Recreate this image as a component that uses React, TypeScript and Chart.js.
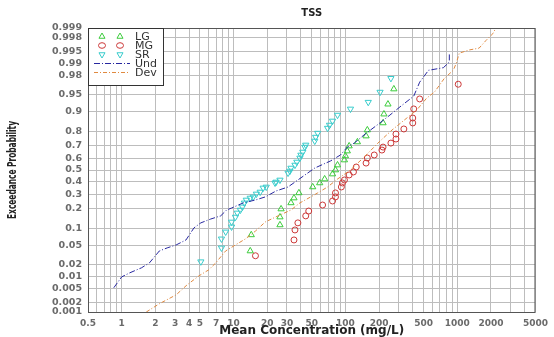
import React, { useEffect, useRef } from "react";
import { Chart, registerables } from "chart.js";

Chart.register(...registerables);

// ---- Data (concentration mg/L, exceedance probability) ----
const lgConc = [14.1, 14.4, 26.0, 26.0, 26.6, 32.6, 34.7, 38.4, 51.0, 58.9, 65.2, 76.7, 81.5, 85, 98, 100, 104, 108, 128, 153, 157, 217, 221, 240, 271];
const lgProb = [0.039, 0.079, 0.116, 0.153, 0.198, 0.237, 0.271, 0.309, 0.356, 0.389, 0.422, 0.465, 0.5, 0.543, 0.586, 0.62, 0.66, 0.699, 0.729, 0.77, 0.808, 0.847, 0.888, 0.924, 0.961];

const mgConc = [15.7, 34.7, 35.4, 37.6, 44.2, 47.0, 62.5, 76.7, 81.5, 81.5, 92, 94, 98, 108, 118, 125, 153, 157, 181, 212, 217, 255, 283, 283, 333, 400, 400, 408, 461, 1020];
const mgProb = [0.031, 0.064, 0.096, 0.125, 0.159, 0.186, 0.223, 0.25, 0.279, 0.309, 0.356, 0.389, 0.414, 0.457, 0.483, 0.526, 0.56, 0.603, 0.628, 0.668, 0.691, 0.721, 0.75, 0.783, 0.814, 0.847, 0.871, 0.908, 0.939, 0.969];

const srConc = [5.1, 7.8, 7.8, 8.5, 9.6, 9.6, 10.4, 10.8, 11.5, 12.0, 12.5, 13.0, 14.1, 15.0, 16.0, 17.3, 18.4, 19.6, 23.5, 24.0, 26.0, 30.7, 31.9, 32.6, 35.4, 36.8, 39.2, 40.0, 41.6, 43.4, 44.2, 53.2, 54.2, 56.5, 69.3, 72.1, 76.7, 85, 111, 160, 204, 255];
const srProb = [0.023, 0.045, 0.067, 0.089, 0.108, 0.129, 0.153, 0.175, 0.192, 0.211, 0.237, 0.257, 0.271, 0.279, 0.301, 0.316, 0.348, 0.356, 0.389, 0.397, 0.414, 0.474, 0.491, 0.517, 0.543, 0.569, 0.603, 0.628, 0.652, 0.691, 0.707, 0.736, 0.763, 0.789, 0.819, 0.836, 0.857, 0.884, 0.908, 0.93, 0.955, 0.977];

const undConc = [0.85, 1.0, 1.18, 1.5, 1.77, 2.17, 2.55, 3.07, 3.76, 4.43, 5.1, 6.25, 7.67, 8.67, 9.6, 12.2, 15.7, 19.2, 24.0, 30.7, 37.6, 53.2, 73.6, 90.3, 104, 120, 150, 192, 250, 307, 408, 461, 553, 751, 849, 849];
const undProb = [0.0052, 0.01, 0.0126, 0.0166, 0.0216, 0.039, 0.045, 0.0515, 0.064, 0.104, 0.125, 0.143, 0.159, 0.192, 0.204, 0.237, 0.257, 0.279, 0.324, 0.356, 0.414, 0.517, 0.578, 0.628, 0.691, 0.721, 0.783, 0.836, 0.884, 0.915, 0.946, 0.972, 0.985, 0.987, 0.9906, 0.9945];

const devConc = [1.66, 2.17, 3.07, 3.84, 4.9, 6.0, 6.93, 8.49, 10.4, 12.8, 15.7, 19.2, 25, 32.6, 39.2, 49.0, 56.5, 69.3, 85, 111, 147, 200, 261, 354, 434, 532, 625, 767, 921, 980, 1042, 1276, 1567, 1807, 2080, 2213];
const devProb = [0.001, 0.0018, 0.0033, 0.0062, 0.0106, 0.0149, 0.0216, 0.039, 0.0515, 0.067, 0.092, 0.129, 0.159, 0.192, 0.237, 0.279, 0.309, 0.356, 0.422, 0.5, 0.611, 0.729, 0.808, 0.871, 0.904, 0.941, 0.955, 0.977, 0.985, 0.99, 0.9945, 0.9955, 0.996, 0.9976, 0.9985, 0.999];

const xTickLabels = ["0.5", "1", "2", "3", "4", "5", "7", "10", "20", "30", "50", "100", "200", "500", "1000", "2000", "5000"];
const yTickProbs = [0.001, 0.002, 0.005, 0.01, 0.02, 0.05, 0.1, 0.2, 0.3, 0.4, 0.5, 0.6, 0.7, 0.8, 0.9, 0.95, 0.98, 0.99, 0.995, 0.998, 0.999];

const TITLE = "TSS";
const X_TITLE = "Mean Concentration (mg/L)";
const Y_TITLE = "Exceedance Probability";

const COLORS = {
  LG: "#3ccc3c",
  MG: "#cc3838",
  SR: "#38cccc",
  Und: "#2828a0",
  Dev: "#e08a40",
};

// inverse standard normal CDF (Acklam)
function probit(p: number): number {
  const a = [-3.969683028665376e1, 2.209460984245205e2, -2.759285104469687e2, 1.38357751867269e2, -3.066479806614716e1, 2.506628277459239];
  const b = [-5.447609879822406e1, 1.615858368580409e2, -1.556989798598866e2, 6.680131188771972e1, -1.328068155288572e1];
  const c = [-7.784894002430293e-3, -3.223964580411365e-1, -2.400758277161838, -2.549732539343734, 4.374664141464968, 2.938163982698783];
  const d = [7.784695709041462e-3, 3.224671290700398e-1, 2.445134137142996, 3.754408661907416];
  const pl = 0.02425;
  if (p < pl) {
    const q = Math.sqrt(-2 * Math.log(p));
    return (((((c[0] * q + c[1]) * q + c[2]) * q + c[3]) * q + c[4]) * q + c[5]) / ((((d[0] * q + d[1]) * q + d[2]) * q + d[3]) * q + 1);
  }
  if (p <= 1 - pl) {
    const q = p - 0.5;
    const r = q * q;
    return ((((((a[0] * r + a[1]) * r + a[2]) * r + a[3]) * r + a[4]) * r + a[5]) * q) / (((((b[0] * r + b[1]) * r + b[2]) * r + b[3]) * r + b[4]) * r + 1);
  }
  const q = Math.sqrt(-2 * Math.log(1 - p));
  return -(((((c[0] * q + c[1]) * q + c[2]) * q + c[3]) * q + c[4]) * q + c[5]) / ((((d[0] * q + d[1]) * q + d[2]) * q + d[3]) * q + 1);
}

const pts = (xs: number[], ps: number[]) => xs.map((x, i) => ({ x, y: probit(ps[i]) }));

// gridline positions on the log axis: 1..9 × each decade, from 0.5 to 5000
const xGridValues: number[] = [];
for (let e = -1; e <= 3; e++) {
  for (let m = 1; m <= 9; m++) {
    const v = parseFloat((m * Math.pow(10, e)).toPrecision(3));
    if (v >= 0.5 && v <= 5000) xGridValues.push(v);
  }
}

function drawTri(ctx: CanvasRenderingContext2D, cx: number, cy: number, r: number, down: boolean) {
  const s = down ? -1 : 1;
  ctx.beginPath();
  ctx.moveTo(cx, cy - s * r);
  ctx.lineTo(cx + r * 0.866, cy + s * r * 0.5);
  ctx.lineTo(cx - r * 0.866, cy + s * r * 0.5);
  ctx.closePath();
  ctx.stroke();
}

const decorPlugin = {
  id: "decor",
  afterDraw(chart: any) {
    const { ctx } = chart;
    const { left, top, right, bottom } = chart.chartArea;
    ctx.save();
    // plot frame
    ctx.strokeStyle = "#555";
    ctx.lineWidth = 1;
    ctx.strokeRect(left + 0.5, top + 0.5, right - left - 1, bottom - top);

    // legend box
    const lx = left, ly = top, lw = 75, lh = 57;
    ctx.fillStyle = "#fff";
    ctx.fillRect(lx, ly, lw, lh);
    ctx.strokeStyle = "#333";
    ctx.strokeRect(lx + 0.5, ly + 0.5, lw, lh);
    const rows = [
      { name: "LG", kind: "up", color: COLORS.LG },
      { name: "MG", kind: "circle", color: COLORS.MG },
      { name: "SR", kind: "down", color: COLORS.SR },
      { name: "Und", kind: "line", color: COLORS.Und, dash: [6, 2, 1, 2] },
      { name: "Dev", kind: "line", color: COLORS.Dev, dash: [4, 2, 1, 2] },
    ];
    ctx.font = '11px "DejaVu Sans"';
    ctx.textBaseline = "middle";
    ctx.textAlign = "left";
    rows.forEach((r: any, i) => {
      const cy = ly + 8.5 + i * 9;
      ctx.strokeStyle = r.color;
      ctx.lineWidth = 1;
      if (r.kind === "line") {
        ctx.setLineDash(r.dash);
        ctx.beginPath();
        ctx.moveTo(lx + 6, cy);
        ctx.lineTo(lx + 42, cy);
        ctx.stroke();
        ctx.setLineDash([]);
      } else {
        [lx + 14, lx + 32].forEach((cx) => {
          if (r.kind === "circle") {
            ctx.beginPath();
            ctx.ellipse(cx, cy, 3.5, 2.8, 0, 0, Math.PI * 2);
            ctx.stroke();
          } else {
            drawTri(ctx, cx, cy, 3.5, r.kind === "down");
          }
        });
      }
      ctx.fillStyle = "#333";
      ctx.fillText(r.name, lx + 47, cy + 0.5);
    });

    // chart title
    ctx.fillStyle = "#222";
    ctx.textAlign = "center";
    ctx.font = 'bold 10px "DejaVu Sans"';
    ctx.fillText(TITLE, (left + right) / 2, 13);

    // x axis title
    ctx.font = 'bold 12px "DejaVu Sans"';
    ctx.fillText(X_TITLE, (left + right) / 2, 331);

    // y axis title
    ctx.save();
    ctx.translate(13, (top + bottom) / 2);
    ctx.rotate(-Math.PI / 2);
    ctx.font = 'bold 12px "Liberation Sans Narrow", "DejaVu Sans Condensed", "Liberation Sans", sans-serif';
    const w = ctx.measureText(Y_TITLE).width;
    const s = Math.min(1, 98 / w);
    ctx.scale(s, 1);
    ctx.fillText(Y_TITLE, 0, 0);
    ctx.restore();

    ctx.restore();
  },
};

export default function App() {
  const ref = useRef<HTMLCanvasElement | null>(null);
  useEffect(() => {
    if (!ref.current) return;
    const markerBase = {
      type: "scatter" as const,
      backgroundColor: "rgba(0,0,0,0)",
      pointBorderWidth: 1,
      showLine: false,
    };
    const chart = new Chart(ref.current, {
      type: "scatter",
      data: {
        datasets: [
          {
            label: "Und",
            data: pts(undConc, undProb),
            showLine: true,
            borderColor: COLORS.Und,
            borderWidth: 1,
            borderDash: [6, 2, 1, 2],
            pointRadius: 0,
            fill: false,
          },
          {
            label: "Dev",
            data: pts(devConc, devProb),
            showLine: true,
            borderColor: COLORS.Dev,
            borderWidth: 1,
            borderDash: [4, 2, 1, 2],
            pointRadius: 0,
            fill: false,
          },
          {
            ...markerBase,
            label: "LG",
            data: pts(lgConc, lgProb),
            borderColor: COLORS.LG,
            pointStyle: "triangle",
            pointRadius: 3.6,
          },
          {
            ...markerBase,
            label: "MG",
            data: pts(mgConc, mgProb),
            borderColor: COLORS.MG,
            pointStyle: "circle",
            pointRadius: 3,
          },
          {
            ...markerBase,
            label: "SR",
            data: pts(srConc, srProb),
            borderColor: COLORS.SR,
            pointStyle: "triangle",
            rotation: 180,
            pointRadius: 3.6,
          },
        ] as any,
      },
      options: {
        responsive: false,
        animation: false,
        layout: { padding: { left: 0, right: 14, top: 28, bottom: 0 } },
        plugins: {
          legend: { display: false },
          title: { display: false },
          tooltip: { enabled: false },
        },
        scales: {
          x: {
            type: "logarithmic",
            min: 0.5,
            max: 5000,
            afterBuildTicks: (scale: any) => {
              scale.ticks = xGridValues.map((v) => ({ value: v }));
            },
            afterFit: (scale: any) => {
              scale.height = 25;
            },
            grid: { color: "#bdbdbd", lineWidth: 1, drawTicks: false },
            border: { display: false },
            ticks: {
              autoSkip: false,
              maxRotation: 0,
              padding: 6,
              color: "#6a6a6a",
              font: { family: "DejaVu Sans", size: 9, weight: "bold" },
              callback: (value: any) => {
                const s = String(parseFloat(Number(value).toPrecision(3)));
                return xTickLabels.includes(s) ? s : "";
              },
            },
          },
          y: {
            type: "linear",
            min: probit(0.001),
            max: probit(0.999),
            afterBuildTicks: (scale: any) => {
              scale.ticks = yTickProbs.map((p) => ({ value: probit(p) }));
            },
            afterFit: (scale: any) => {
              scale.width = 88;
            },
            grid: { color: "#bdbdbd", lineWidth: 1, drawTicks: false },
            border: { display: false },
            ticks: {
              autoSkip: false,
              padding: 6,
              color: "#6a6a6a",
              font: { family: "DejaVu Sans", size: 9.5, weight: "bold" },
              callback: (_v: any, i: number) => String(yTickProbs[i]),
            },
          },
        },
      } as any,
      plugins: [decorPlugin],
    });
    return () => chart.destroy();
  }, []);

  return (
    <div style={{ position: "fixed", left: 0, top: 0, width: 554, height: 337, background: "#fff" }}>
      <canvas ref={ref} width={554} height={337} style={{ width: 554, height: 337, display: "block" }} />
    </div>
  );
}
